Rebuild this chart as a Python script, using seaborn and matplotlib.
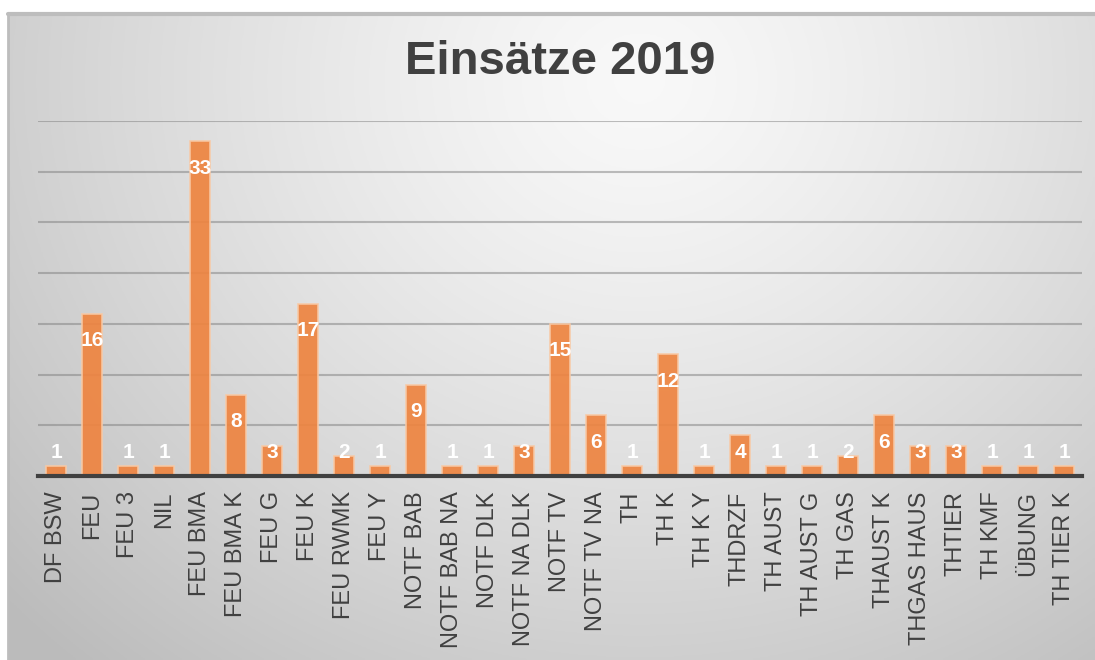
import numpy as np
import pandas as pd
import matplotlib
matplotlib.use("Agg")
import matplotlib.pyplot as plt
import seaborn as sns

categories = ["DF BSW", "FEU", "FEU 3", "NIL", "FEU BMA", "FEU BMA K", "FEU G",
              "FEU K", "FEU RWMK", "FEU Y", "NOTF BAB", "NOTF BAB NA", "NOTF DLK",
              "NOTF NA DLK", "NOTF TV", "NOTF TV NA", "TH", "TH K", "TH K Y",
              "THDRZF", "TH AUST", "TH AUST G", "TH GAS", "THAUST K", "THGAS HAUS",
              "THTIER", "TH KMF", "ÜBUNG", "TH TIER K"]
counts = [1, 16, 1, 1, 33, 8, 3, 17, 2, 1, 9, 1, 1, 3, 15, 6, 1, 12, 1,
          4, 1, 1, 2, 6, 3, 3, 1, 1, 1]

df = pd.DataFrame({"Einsatz": categories, "Anzahl": counts})

sns.set_style("white")
plt.rcParams["font.family"] = ["Liberation Sans", "DejaVu Sans"]

W, H = 1095, 660
fig = plt.figure(figsize=(W / 100, H / 100), dpi=100)
fig.patch.set_facecolor("white")

# radial grey background of the chart area
bg = fig.add_axes([8 / W, 0, 1 - 8 / W, 1 - 14 / H], zorder=0)
gx, gy = np.meshgrid(np.linspace(8, W, 400), np.linspace(14, H, 250))
r = np.sqrt(((gx - 640) / 720) ** 2 + ((gy - 80) / 650) ** 2)
shade = 0.975 - 0.19 * np.clip(r, 0, 1.2) ** 1.3
bg.imshow(np.dstack([shade] * 3), aspect="auto", extent=[0, 1, 0, 1], origin="upper")
bg.set_xlim(0, 1)
bg.set_ylim(0, 1)
bg.axis("off")
bg.plot([0, 1], [1, 1], color="#bdbdbd", lw=3, transform=bg.transAxes, clip_on=False)
bg.plot([0, 0], [0, 1], color="#bdbdbd", lw=2, transform=bg.transAxes, clip_on=False)

ax = fig.add_axes([38 / W, 1 - 476 / H, (1082 - 38) / W, (476 - 121) / H], zorder=1)
ax.patch.set_alpha(0)

sns.barplot(data=df, x="Einsatz", y="Anzahl", color="#EE8440", saturation=1,
            width=0.56, alpha=0.92, edgecolor="#F8C9A5", linewidth=1.2,
            ax=ax, zorder=3)

ax.set_ylim(0, 35)
ax.set_xlim(-0.5, len(categories) - 0.5)
ax.set_yticks(np.arange(0, 36, 5))
ax.set_yticklabels([])
ax.tick_params(axis="y", length=0)
ax.yaxis.grid(True, color="#7f7f7f", alpha=0.5, lw=1.5, zorder=1)
ax.set_axisbelow(True)
for s in ["top", "right", "left"]:
    ax.spines[s].set_visible(False)
ax.spines["bottom"].set_color("#404040")
ax.spines["bottom"].set_linewidth(3)
ax.spines["bottom"].set_zorder(4)

ax.set_xlabel("")
ax.set_ylabel("")
ax.tick_params(axis="x", length=0, pad=11, labelsize=17, labelcolor="#404040")
plt.setp(ax.get_xticklabels(), rotation=90)

for i, v in enumerate(counts):
    ax.text(i, max(v - 2.65, 2.35), str(v), ha="center", va="center",
            color="white", fontsize=15, fontweight="bold", zorder=5)

fig.text(560 / W, 1 - 62 / H, "Einsätze 2019", ha="center", va="center",
         fontsize=34, fontweight="bold", color="#404040")

fig.savefig("out.png", dpi=100)
